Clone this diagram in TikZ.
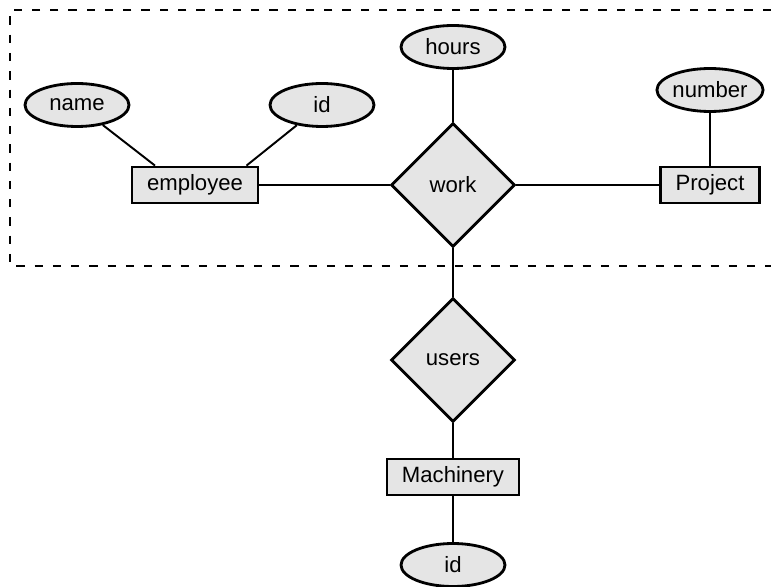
\documentclass[tikz,border=0pt]{standalone}
\usepackage{fontspec}
\setmainfont{Liberation Sans}
\usetikzlibrary{shapes.geometric}

\begin{document}
\begin{tikzpicture}[x=0.02cm, y=-0.02cm,
    every node/.style={
        draw,
        line width=1.6pt,
        fill=black!10,
        font=\fontsize{12.6}{14}\selectfont
    },
    entity/.style={rectangle, minimum height=0.72cm, inner xsep=0.3cm},
    attrib/.style={ellipse, minimum width=2.08cm, minimum height=0.86cm, inner sep=0pt},
    relation/.style={diamond, minimum width=2.48cm, minimum height=2.48cm, inner sep=0pt},
    link/.style={line width=1.1pt}
]
    \useasboundingbox (0,0) rectangle (771,587);

    % group around the work relation
    \draw[line width=1.1pt, dash pattern=on 4.7pt off 5.7pt]
        (771,10) -- (10,10) -- (10,266) -- (771,266);

    \node (employee) [entity] at (195,185) {employee};
    \node (project) [entity] at (710,185) {Project};
    \node (machinery) [entity] at (453,477) {Machinery};

    \node (name) [attrib] at (77,105) {name};
    \node (employee_id) [attrib] at (322,105) {id};
    \node (hours) [attrib] at (453,47) {hours};
    \node (number) [attrib] at (710,90) {number};
    \node (machinery_id) [attrib] at (453,565) {id};

    \node (work) [relation] at (453,185) {work};
    \node (users) [relation] at (453,360) {users};

    \draw[link] (name) -- ([xshift=-0.8cm]employee.north);
    \draw[link] (employee_id) -- ([xshift=1.03cm]employee.north);
    \draw[link] (employee) -- (work);
    \draw[link] (work) -- (project);
    \draw[link] (hours) -- (work);
    \draw[link] (number) -- (project);
    \draw[link] (work) -- (users);
    \draw[link] (users) -- (machinery);
    \draw[link] (machinery) -- (machinery_id);
\end{tikzpicture}
\end{document}
